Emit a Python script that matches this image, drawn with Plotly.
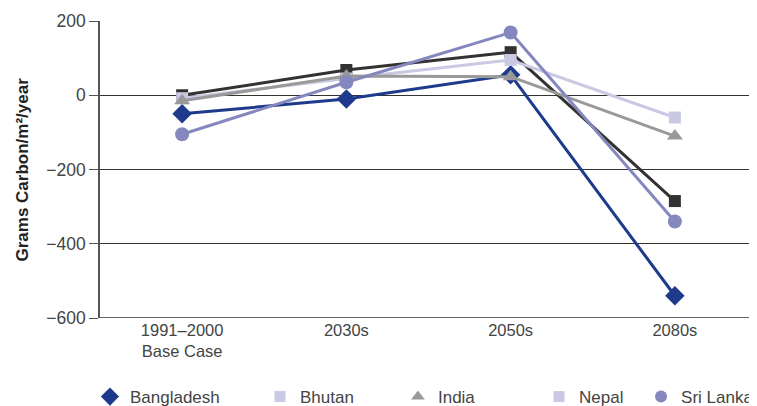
import plotly.graph_objects as go

categories = ["1991–2000<br>Base Case", "2030s", "2050s", "2080s"]
bangladesh = [-50, -10, 55, -540]
bhutan = [0, 68, 116, -285]
india = [-15, 52, 50, -110]
nepal = [-8, 45, 95, -60]
sri_lanka = [-105, 35, 169, -340]
y_ticks = [200, 0, -200, -400, -600]
y_tick_labels = ["200", "0", "−200", "−400", "−600"]

FONT = "Liberation Sans, Arial, sans-serif"
TXT = "#444444"
series = [
    ("Bangladesh", bangladesh, "#1d3a8c", "diamond", 15),
    ("Bhutan", bhutan, "#333132", "square", 12),
    ("Nepal", nepal, "#c9c9e3", "square", 12),
    ("India", india, "#999999", "triangle-up", 14),
    ("Sri Lanka", sri_lanka, "#8587bf", "circle", 14),
]
legend_items = [
    ("Bangladesh", "#1d3a8c", "diamond", 14),
    ("Bhutan", "#c9c9e3", "square", 11),
    ("India", "#999999", "triangle-up", 12),
    ("Nepal", "#c9c9e3", "square", 11),
    ("Sri Lanka", "#8587bf", "circle", 12),
]
legend_x = [-0.0153, 0.2435, 0.4535, 0.6682, 0.8235]

fig = go.Figure()
for name, vals, color, sym, size in series:
    fig.add_trace(go.Scatter(
        x=categories, y=vals, name=name, mode="lines+markers",
        line=dict(color=color, width=3),
        marker=dict(symbol=sym, size=size, color=color),
        showlegend=False,
    ))
legend_layouts = {}
for i, (name, color, sym, size) in enumerate(legend_items):
    key = "legend" if i == 0 else f"legend{i+1}"
    fig.add_trace(go.Scatter(
        x=[None], y=[None], name=name, mode="markers",
        marker=dict(symbol=sym, size=size, color=color),
        legend=key,
    ))
    legend_layouts[key] = dict(
        orientation="h", x=legend_x[i], xanchor="left", y=-0.266, yanchor="middle",
        font=dict(size=17, color=TXT), itemwidth=30, bgcolor="rgba(0,0,0,0)",
    )

# page body has an 8px margin, so the figure is sized/offset to compensate
fig.update_layout(
    width=749, height=398,
    margin=dict(l=92, r=0, t=13, b=88, autoexpand=False),
    plot_bgcolor="white", paper_bgcolor="white",
    font=dict(family=FONT, size=16.5, color=TXT),
    xaxis=dict(
        range=[-0.5, 3.5], showgrid=False, zeroline=False,
        showline=False, ticks="", tickfont=dict(size=16.5, color=TXT),
    ),
    yaxis=dict(
        range=[-600, 200], tickvals=y_ticks, ticktext=y_tick_labels,
        showgrid=True, gridcolor="#333333", gridwidth=1,
        zeroline=False, showline=True, linecolor="#555555", linewidth=1.5,
        ticks="outside", ticklen=9, tickcolor="#555555",
        tickfont=dict(size=17.5, color=TXT),
    ),
    annotations=[dict(
        text="<b>Grams Carbon/m²/year</b>", textangle=-90,
        xref="paper", yref="paper", x=-0.1187, y=0.5,
        xanchor="center", yanchor="middle", showarrow=False,
        font=dict(size=17, color="#222222"),
    )],
    shapes=[dict(type="line", xref="paper", yref="y", x0=0, x1=1, y0=-600, y1=-600,
                 line=dict(color="#666666", width=2))],
    **legend_layouts,
)

fig.write_html("out.html")
